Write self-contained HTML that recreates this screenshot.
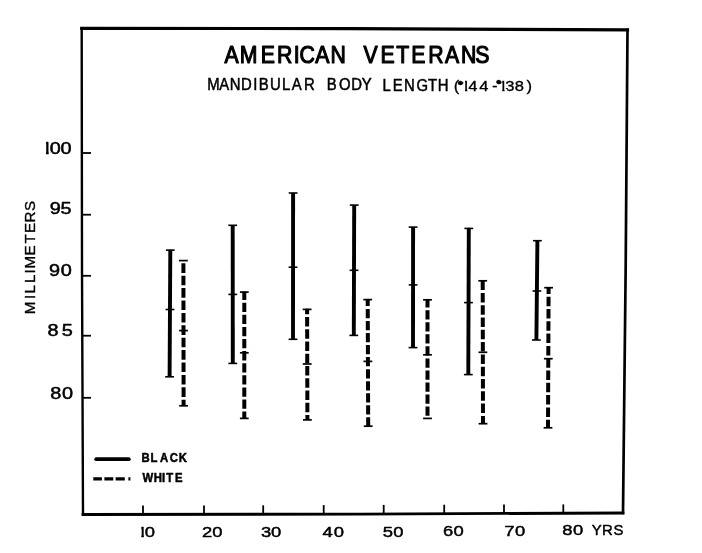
<!DOCTYPE html>
<html lang="en"><head><meta charset="utf-8"><title>American Veterans - Mandibular Body Length</title>
<style>html,body{margin:0;padding:0;background:#fff;}svg{display:block;}text{font-family:"Liberation Sans",Arial,sans-serif;fill:#000;}</style>
</head><body>
<svg width="702" height="553" viewBox="0 0 702 553">
<rect width="702" height="553" fill="#fff"/>
<g stroke="#000" fill="none" stroke-linecap="square">
<polyline points="81.7,28.3 350,28.6 627.5,29.9" stroke-width="3.2"/>
<polyline points="81.7,28.3 82,270 83,514.5" stroke-width="2.4"/>
<polyline points="627.5,29.9 625.7,265 623,513" stroke-width="2.7"/>
<polyline points="83,514.5 360,514.1 623,513" stroke-width="2.8"/>
</g>
<g stroke="#000" stroke-width="1.8">
<line x1="143.0" y1="505.6" x2="143.0" y2="514.2"/>
<line x1="204.0" y1="505.4" x2="204.0" y2="514.0"/>
<line x1="263.2" y1="505.3" x2="263.2" y2="513.9"/>
<line x1="323.7" y1="505.1" x2="323.7" y2="513.7"/>
<line x1="383.7" y1="504.9" x2="383.7" y2="513.5"/>
<line x1="444.2" y1="504.7" x2="444.2" y2="513.3"/>
<line x1="504.0" y1="504.6" x2="504.0" y2="513.2"/>
<line x1="563.3" y1="504.4" x2="563.3" y2="513.0"/>
<line x1="82" y1="153.0" x2="91" y2="153.0"/>
<line x1="82" y1="214.7" x2="91" y2="214.7"/>
<line x1="82" y1="275.8" x2="91" y2="275.8"/>
<line x1="82" y1="335.7" x2="91" y2="335.7"/>
<line x1="82" y1="397.8" x2="91" y2="397.8"/>
</g>
<clipPath id="c1"><rect x="141.28" y="520.79" width="2.58" height="22.65"/><rect x="144.82" y="520.79" width="10.06" height="14.85"/><rect x="146.89" y="535.64" width="7.99" height="7.80"/></clipPath>
<g clip-path="url(#c1)"><text transform="translate(0,537.4) scale(1.220,1)" font-size="15.1" stroke="#000" stroke-width="0.45" stroke-linejoin="round" x="112.40 118.55" y="0.0 0.0">10</text></g>
<text transform="translate(0,537.4) scale(1.220,1)" font-size="15.1" stroke="#000" stroke-width="0.45" stroke-linejoin="round" x="165.64 174.00" y="0.0 0.0">20</text>
<text transform="translate(0,536.8) scale(1.220,1)" font-size="15.1" stroke="#000" stroke-width="0.45" stroke-linejoin="round" x="214.00 222.19" y="0.0 0.0">30</text>
<text transform="translate(0,536.6) scale(1.220,1)" font-size="15.1" stroke="#000" stroke-width="0.45" stroke-linejoin="round" x="264.37 273.67" y="0.0 0.0">40</text>
<text transform="translate(0,536.5) scale(1.220,1)" font-size="15.1" stroke="#000" stroke-width="0.45" stroke-linejoin="round" x="313.81 322.44" y="0.0 0.0">50</text>
<text transform="translate(0,536.0) scale(1.220,1)" font-size="15.1" stroke="#000" stroke-width="0.45" stroke-linejoin="round" x="363.04 371.66" y="0.0 0.0">60</text>
<text transform="translate(0,535.6) scale(1.220,1)" font-size="15.1" stroke="#000" stroke-width="0.45" stroke-linejoin="round" x="413.38 422.19" y="0.0 0.0">70</text>
<text transform="translate(0,535.2) scale(1.220,1)" font-size="15.1" stroke="#000" stroke-width="0.45" stroke-linejoin="round" x="460.96 469.61" y="0.0 0.0">80</text>
<text transform="translate(0,534.5) scale(0.960,1)" font-size="15.5" stroke="#000" stroke-width="0.45" stroke-linejoin="round" x="616.45 627.20 639.11" y="0.0 0.0 0.0">YRS</text>
<clipPath id="c2"><rect x="45.95" y="136.27" width="2.76" height="24.45"/><rect x="50.00" y="136.27" width="10.81" height="16.06"/><rect x="51.98" y="152.33" width="8.82" height="8.39"/><rect x="60.85" y="136.27" width="10.81" height="24.45"/></clipPath>
<g clip-path="url(#c2)"><text transform="translate(0,154.2) scale(1.220,1)" font-size="16.3" stroke="#000" stroke-width="0.50" stroke-linejoin="round" x="33.97 40.80 49.69" y="0.0 0.0 0.0">100</text></g>
<text transform="translate(0,214.4) scale(1.220,1)" font-size="16.3" stroke="#000" stroke-width="0.50" stroke-linejoin="round" x="40.72 49.62" y="0.0 0.0">95</text>
<text transform="translate(0,275.9) scale(1.220,1)" font-size="16.3" stroke="#000" stroke-width="0.50" stroke-linejoin="round" x="40.27 49.81" y="0.0 0.0">90</text>
<text transform="translate(0,335.8) scale(1.220,1)" font-size="16.3" stroke="#000" stroke-width="0.50" stroke-linejoin="round" x="38.91 50.69" y="0.0 0.0">85</text>
<text transform="translate(0,398.7) scale(1.220,1)" font-size="16.3" stroke="#000" stroke-width="0.50" stroke-linejoin="round" x="41.12 50.80" y="0.0 0.0">80</text>
<text transform="translate(35.3,313.3) rotate(-90) scale(1.000,1)" font-size="15.2" stroke="#000" stroke-width="0.35" stroke-linejoin="round" x="-0.83 14.29 19.80 30.20 39.89 44.72 57.93 69.81 80.43 90.79 102.38" y="0.0 0.0 0.0 0.0 0.0 0.0 0.0 0.0 0.0 0.0 0.0">MILLIMETERS</text>
<text transform="translate(0,62.5) scale(0.900,1)" font-size="23.6" stroke="#000" stroke-width="1.15" stroke-linejoin="round" x="249.41 266.28 289.61 307.84 326.39 332.77 350.30 367.19 384.24 403.85 422.67 440.41 457.00 475.84 494.35 512.25 527.97" y="0.0 0.0 0.0 0.0 0.0 0.0 0.0 0.0 0.0 0.2 0.2 0.2 0.2 0.2 0.2 0.2 0.2">AMERICAN VETERANS</text>
<text transform="translate(0,90.3) scale(0.920,1)" font-size="16.2" stroke="#000" stroke-width="0.50" stroke-linejoin="round" x="225.21 238.29 249.80 261.92 275.25 281.21 293.39 306.62 317.04 330.44 342.14 355.07 368.59 381.75 393.29 404.10 415.75 426.84 439.20 452.81 465.11 475.94" y="0.0 0.0 0.0 0.0 0.0 0.0 0.0 0.0 0.0 0.0 0.0 0.1 0.1 0.1 0.1 0.0 0.3 0.3 0.3 0.3 0.3 0.3">MANDIBULAR BODY LENGTH</text>
<clipPath id="c3"><rect x="454.28" y="74.86" width="5.54" height="21.60"/><rect x="457.41" y="79.24" width="5.88" height="7.73"/><rect x="465.01" y="74.86" width="2.31" height="21.60"/><rect x="468.25" y="74.86" width="9.49" height="14.19"/><rect x="470.04" y="89.05" width="7.71" height="7.42"/><rect x="479.15" y="74.86" width="9.49" height="21.60"/><rect x="492.35" y="74.86" width="5.19" height="21.60"/><rect x="495.97" y="78.06" width="5.57" height="7.37"/><rect x="502.21" y="74.86" width="2.31" height="21.60"/><rect x="505.50" y="74.86" width="9.00" height="14.19"/><rect x="507.24" y="89.05" width="7.26" height="7.42"/><rect x="515.04" y="74.86" width="8.92" height="21.60"/><rect x="526.18" y="74.86" width="5.54" height="21.60"/></clipPath>
<g clip-path="url(#c3)"><text transform="translate(0,90.7) scale(1.150,1)" font-size="14.4" stroke="#000" stroke-width="0.35" stroke-linejoin="round" x="394.55 397.55 401.10 407.26 416.74 427.91 431.11 433.45 439.43 447.65 457.88" y="0.0 -2.4 0.0 0.0 0.0 0.0 -4.1 0.0 0.0 0.0 0.0">(<tspan font-size="15.5">•</tspan>144-<tspan font-size="14.5">•</tspan>138)</text></g>
<g stroke="#000" fill="none">
<line x1="170.3" y1="250.1" x2="169.6" y2="376.8" stroke-width="3.9"/>
<line x1="165.9" y1="250.1" x2="174.7" y2="250.1" stroke-width="1.6"/>
<line x1="165.6" y1="309.5" x2="174.4" y2="309.5" stroke-width="1.6"/>
<line x1="165.2" y1="376.8" x2="174.0" y2="376.8" stroke-width="1.6"/>
<line x1="232.7" y1="225.3" x2="232.8" y2="363.4" stroke-width="3.9"/>
<line x1="228.3" y1="225.3" x2="237.1" y2="225.3" stroke-width="1.6"/>
<line x1="228.4" y1="294.4" x2="237.2" y2="294.4" stroke-width="1.6"/>
<line x1="228.4" y1="363.4" x2="237.2" y2="363.4" stroke-width="1.6"/>
<line x1="293.1" y1="193.0" x2="293.0" y2="339.3" stroke-width="3.9"/>
<line x1="288.7" y1="193.0" x2="297.5" y2="193.0" stroke-width="1.6"/>
<line x1="288.6" y1="267.2" x2="297.4" y2="267.2" stroke-width="1.6"/>
<line x1="288.6" y1="339.3" x2="297.4" y2="339.3" stroke-width="1.6"/>
<line x1="354.2" y1="205.1" x2="353.8" y2="335.4" stroke-width="3.9"/>
<line x1="349.8" y1="205.1" x2="358.6" y2="205.1" stroke-width="1.6"/>
<line x1="349.6" y1="270.3" x2="358.4" y2="270.3" stroke-width="1.6"/>
<line x1="349.4" y1="335.4" x2="358.2" y2="335.4" stroke-width="1.6"/>
<line x1="413.1" y1="227.1" x2="413.0" y2="347.6" stroke-width="3.9"/>
<line x1="408.7" y1="227.1" x2="417.5" y2="227.1" stroke-width="1.6"/>
<line x1="408.7" y1="284.9" x2="417.5" y2="284.9" stroke-width="1.6"/>
<line x1="408.6" y1="347.6" x2="417.4" y2="347.6" stroke-width="1.6"/>
<line x1="468.8" y1="228.4" x2="468.3" y2="374.6" stroke-width="3.9"/>
<line x1="464.4" y1="228.4" x2="473.2" y2="228.4" stroke-width="1.6"/>
<line x1="464.1" y1="302.6" x2="472.9" y2="302.6" stroke-width="1.6"/>
<line x1="463.9" y1="374.6" x2="472.7" y2="374.6" stroke-width="1.6"/>
<line x1="537.4" y1="240.7" x2="536.4" y2="340.0" stroke-width="3.9"/>
<line x1="533.0" y1="240.7" x2="541.8" y2="240.7" stroke-width="1.6"/>
<line x1="532.5" y1="291.0" x2="541.3" y2="291.0" stroke-width="1.6"/>
<line x1="532.0" y1="340.0" x2="540.8" y2="340.0" stroke-width="1.6"/>
<line x1="183.4" y1="260.0" x2="183.6" y2="405.6" stroke-width="4.0" stroke-dasharray="9.60 2.80" stroke-dashoffset="9.10"/>
<line x1="179.0" y1="260.6" x2="187.8" y2="260.6" stroke-width="1.7"/>
<line x1="179.1" y1="330.6" x2="187.9" y2="330.6" stroke-width="1.7"/>
<line x1="179.2" y1="405.8" x2="188.0" y2="405.8" stroke-width="1.7"/>
<line x1="244.3" y1="291.5" x2="244.3" y2="418.2" stroke-width="4.0" stroke-dasharray="9.30 2.80" stroke-dashoffset="0.90"/>
<line x1="239.9" y1="292.1" x2="248.7" y2="292.1" stroke-width="1.7"/>
<line x1="239.9" y1="352.8" x2="248.7" y2="352.8" stroke-width="1.7"/>
<line x1="239.9" y1="418.4" x2="248.7" y2="418.4" stroke-width="1.7"/>
<line x1="307.1" y1="308.8" x2="307.4" y2="419.7" stroke-width="4.0" stroke-dasharray="9.45 2.80" stroke-dashoffset="3.95"/>
<line x1="302.7" y1="309.4" x2="311.5" y2="309.4" stroke-width="1.7"/>
<line x1="302.8" y1="364.0" x2="311.6" y2="364.0" stroke-width="1.7"/>
<line x1="303.0" y1="419.9" x2="311.8" y2="419.9" stroke-width="1.7"/>
<line x1="367.7" y1="299.0" x2="368.2" y2="426.0" stroke-width="4.0" stroke-dasharray="9.25 2.80" stroke-dashoffset="2.15"/>
<line x1="363.3" y1="299.6" x2="372.1" y2="299.6" stroke-width="1.7"/>
<line x1="363.5" y1="361.4" x2="372.3" y2="361.4" stroke-width="1.7"/>
<line x1="363.8" y1="426.2" x2="372.6" y2="426.2" stroke-width="1.7"/>
<line x1="427.5" y1="299.2" x2="427.5" y2="418.2" stroke-width="4.0" stroke-dasharray="9.25 2.80" stroke-dashoffset="1.05"/>
<line x1="423.1" y1="299.8" x2="431.9" y2="299.8" stroke-width="1.7"/>
<line x1="423.1" y1="354.8" x2="431.9" y2="354.8" stroke-width="1.7"/>
<line x1="423.1" y1="418.4" x2="431.9" y2="418.4" stroke-width="1.7"/>
<line x1="482.7" y1="280.2" x2="483.0" y2="423.5" stroke-width="4.0" stroke-dasharray="9.50 2.80" stroke-dashoffset="11.90"/>
<line x1="478.3" y1="280.8" x2="487.1" y2="280.8" stroke-width="1.7"/>
<line x1="478.5" y1="352.3" x2="487.3" y2="352.3" stroke-width="1.7"/>
<line x1="478.6" y1="423.7" x2="487.4" y2="423.7" stroke-width="1.7"/>
<line x1="548.6" y1="287.1" x2="548.0" y2="427.6" stroke-width="4.0" stroke-dasharray="9.50 2.80" stroke-dashoffset="2.70"/>
<line x1="544.2" y1="287.7" x2="553.0" y2="287.7" stroke-width="1.7"/>
<line x1="543.9" y1="358.7" x2="552.7" y2="358.7" stroke-width="1.7"/>
<line x1="543.6" y1="427.8" x2="552.4" y2="427.8" stroke-width="1.7"/>
</g>
<line x1="96.2" y1="459.2" x2="128.8" y2="459.2" stroke="#000" stroke-width="3.8" stroke-linecap="round"/>
<line x1="93.3" y1="478.9" x2="130.4" y2="478.9" stroke="#000" stroke-width="3.4" stroke-dasharray="8.6 2.5 8.9 2.3 9.2 3.6 2 9"/>
<text transform="translate(0,462.4) scale(0.930,1)" font-size="12.2" stroke="#000" stroke-width="0.50" stroke-linejoin="round" x="152.08 161.97 172.16 182.55 192.23" y="0.0 0.0 0.0 0.0 0.0" font-weight="bold">BLACK</text>
<text transform="translate(0,482.3) scale(0.930,1)" font-size="12.2" stroke="#000" stroke-width="0.50" stroke-linejoin="round" x="153.22 165.28 174.27 178.64 188.23" y="0.0 0.0 0.0 0.0 0.0" font-weight="bold">WHITE</text>
</svg></body></html>
